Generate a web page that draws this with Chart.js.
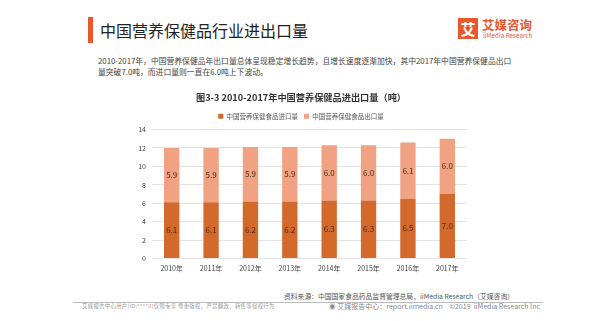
<!DOCTYPE html>
<html>
<head>
<meta charset="utf-8">
<script src="https://cdn.jsdelivr.net/npm/chart.js@4"></script>
<style>
  html, body { margin: 0; padding: 0; background: #fff; }
  body { width: 600px; height: 321px; position: relative; overflow: hidden;
         font-family: "Noto Sans CJK SC", "Noto Sans", sans-serif; color: #333; }
  .bar { position: absolute; left: 88px; top: 17px; width: 5px; height: 26px; background: #e8582c; }
  .title { position: absolute; left: 100px; top: 19px; font-size: 16px; color: #222; line-height: 22px; }
  .logo-box { position: absolute; left: 458px; top: 18px; width: 20px; height: 21px; background: #e8582c;
              color: #fff; font-size: 15px; line-height: 21px; text-align: center; font-weight: bold; }
  .logo-cn { position: absolute; left: 482px; top: 17px; font-size: 12.5px; color: #e8582c; font-weight: bold; line-height: 16px; }
  .logo-en { position: absolute; left: 483px; top: 32px; font-size: 6.3px; color: #e8582c; line-height: 8px; }
  .desc { position: absolute; left: 98px; top: 55px; font-size: 7.8px; line-height: 11px; color: #444; white-space: nowrap; }
  #wrap { position: absolute; left: 118px; top: 88px; width: 382px; height: 191px; }
  .src { position: absolute; right: 86px; top: 291px; font-size: 6.8px; color: #555; white-space: nowrap; line-height: 10px; }
  .rule { position: absolute; left: 73px; top: 302px; width: 470px; height: 1px; background: #bbb; }
  .foot-l { position: absolute; left: 82px; top: 302px; font-size: 5.4px; color: #999; white-space: nowrap; line-height: 8px; letter-spacing: 0.3px; }
  .foot-r { position: absolute; right: 60px; top: 301px; font-size: 7px; color: #888; white-space: nowrap; line-height: 10px; }
</style>
</head>
<body>
<div class="bar"></div>
<div class="title">中国营养保健品行业进出口量</div>
<div class="logo-box">艾</div>
<div class="logo-cn">艾媒咨询</div>
<div class="logo-en">iiMedia Research</div>
<div class="desc">2010-2017年，中国营养保健品年出口量总体呈现稳定增长趋势，且增长速度逐渐加快，其中2017年中国营养保健品出口<br>量突破7.0吨，而进口量则一直在6.0吨上下波动。</div>
<div id="wrap"><canvas id="chart"></canvas></div>
<div class="src">资料来源：中国国家食品药品监督管理总局，iiMedia Research（艾媒咨询）</div>
<div class="rule"></div>
<div class="foot-l">艾媒报告中心用户(ID:****0)仅限专享 尊重版权，严禁翻改，转售等侵权行为</div>
<div class="foot-r">◉ 艾媒报告中心：report.iimedia.cn &nbsp;&nbsp;&nbsp;©2019 &nbsp;iiMedia Research Inc</div>

<script>
const years = ['2010年', '2011年', '2012年', '2013年', '2014年', '2015年', '2016年', '2017年'];
const importVol = [6.1, 6.1, 6.2, 6.2, 6.3, 6.3, 6.5, 7.0];
const exportVol = [5.9, 5.9, 5.9, 5.9, 6.0, 6.0, 6.1, 6.0];
const yTicks = [0, 2, 4, 6, 8, 10, 12, 14];

const FONT = '"Noto Sans CJK SC", "Noto Sans", sans-serif';

// write each segment's value in the middle of its bar
const barLabels = {
  id: 'barLabels',
  afterDatasetsDraw(chart) {
    const ctx = chart.ctx;
    ctx.save();
    ctx.font = '8px ' + FONT;
    ctx.fillStyle = '#4a2e1c';
    ctx.textAlign = 'center';
    ctx.textBaseline = 'middle';
    chart.data.datasets.forEach((ds, i) => {
      chart.getDatasetMeta(i).data.forEach((bar, j) => {
        const mid = (bar.y + bar.base) / 2;
        ctx.fillText(ds.data[j].toFixed(1), bar.x, mid);
      });
    });
    ctx.restore();
  }
};

new Chart(document.getElementById('chart'), {
  type: 'bar',
  data: {
    labels: years,
    datasets: [
      { label: '中国营养保健食品进口量', data: importVol, backgroundColor: '#d4692c' },
      { label: '中国营养保健食品出口量', data: exportVol, backgroundColor: '#f0a283' }
    ]
  },
  options: {
    responsive: true,
    maintainAspectRatio: false,
    animation: false,
    layout: { padding: { left: 17, right: 33, top: 0, bottom: 0 } },
    datasets: { bar: { barPercentage: 0.39, categoryPercentage: 1 } },
    plugins: {
      title: {
        display: true,
        text: '图3-3 2010-2017年中国营养保健品进出口量（吨）',
        color: '#333',
        font: { family: FONT, size: 9.2, weight: 'bold' },
        padding: { top: 4, bottom: 4 }
      },
      legend: {
        labels: {
          boxWidth: 5, boxHeight: 5, color: '#555',
          font: { family: FONT, size: 6.5 },
          padding: 6
        }
      },
      tooltip: { enabled: false }
    },
    scales: {
      x: {
        stacked: true,
        grid: { display: false, drawTicks: false },
        border: { display: false },
        ticks: { color: '#444', font: { family: FONT, size: 7 }, padding: 6 }
      },
      y: {
        stacked: true,
        min: 0,
        max: 14,
        afterBuildTicks(axis) { axis.ticks = yTicks.map(v => ({ value: v })); },
        afterFit(axis) { axis.width = 17; },
        grid: { color: '#e4e4e4', drawTicks: false },
        border: { display: false },
        ticks: { color: '#444', font: { family: FONT, size: 7 }, padding: 6 }
      }
    }
  },
  plugins: [barLabels]
});
</script>
</body>
</html>
